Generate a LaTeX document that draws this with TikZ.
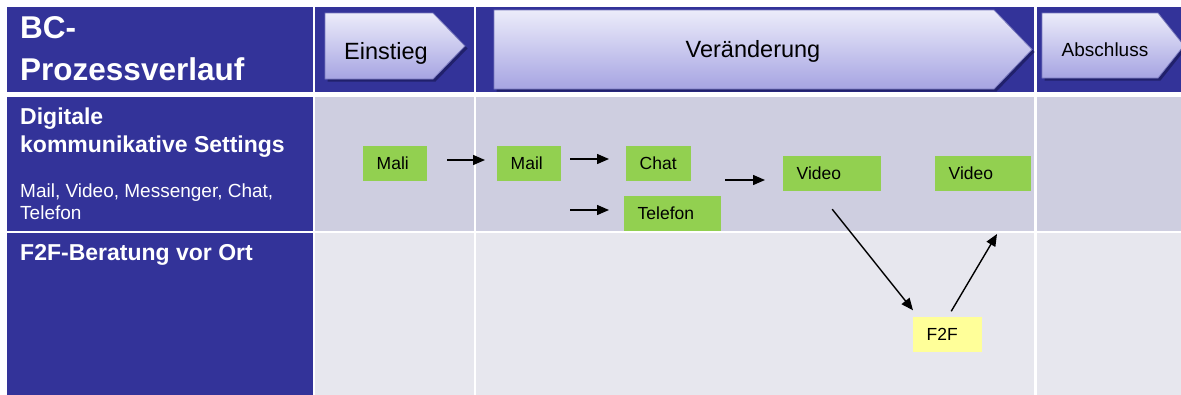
\documentclass[tikz,border=0pt]{standalone}
\usepackage{fontspec}
\setmainfont{Liberation Sans}
\usetikzlibrary{arrows.meta}

\definecolor{bcblue}{RGB}{51,51,153}
\definecolor{rowdigital}{RGB}{206,206,224}
\definecolor{rowlocal}{RGB}{231,231,238}
\definecolor{boxgreen}{RGB}{146,208,80}
\definecolor{boxyellow}{RGB}{255,255,153}
\definecolor{phasetop}{RGB}{236,236,250}
\definecolor{phasebottom}{RGB}{166,164,226}
\definecolor{phaseedge}{RGB}{120,120,190}
\definecolor{phaseshadow}{RGB}{28,28,96}

\tikzset{
  phasebody/.style={top color=phasetop, bottom color=phasebottom, draw=phaseedge, line width=0.8pt},
  phasetext/.style={anchor=base, font=\fontsize{23.5}{26}\selectfont},
  rowhead/.style={anchor=base west, text=white, font=\fontsize{23}{26}\selectfont\bfseries, inner sep=0pt},
  rownote/.style={anchor=base west, text=white, font=\fontsize{19}{22}\selectfont, inner sep=0pt},
  box/.style={fill=boxgreen, anchor=west, minimum height=35pt, inner xsep=13.5pt,
    text height=12.5pt, text depth=0pt, align=left, font=\fontsize{17.5}{20}\selectfont},
  arr/.style={->, line width=1.4pt},
}

% one phase chevron: left, top, bottom, start of the point, tip
\newcommand{\phase}[5]{%
  \fill[phaseshadow, opacity=0.8, shift={(2.5,2.5)}]
    (#1,#2) -- (#4,#2) -- (#5,{(#2+#3)/2}) -- (#4,#3) -- (#1,#3) -- cycle;
  \shadedraw[phasebody]
    (#1,#2) -- (#4,#2) -- (#5,{(#2+#3)/2}) -- (#4,#3) -- (#1,#3) -- cycle;
}

\begin{document}
\begin{tikzpicture}[x=1pt, y=-1pt, >={Triangle[length=12pt,width=10pt]}]
\useasboundingbox (0,0) rectangle (1181,394);

% table cells
\foreach \a/\b in {6.5/312.5, 315/473.5, 476/1034, 1037/1190}
  \fill[bcblue] (\a,7) rectangle (\b,91.5);
\foreach \t/\u/\c in {96.5/230.5/rowdigital, 233/400/rowlocal} {
  \fill[bcblue] (6.5,\t) rectangle (312.5,\u);
  \foreach \a/\b in {315/473.5, 476/1034, 1037/1190}
    \fill[\c] (\a,\t) rectangle (\b,\u);
}

% phases
\phase{325}{13}{79}{433}{465}
\phase{494}{10}{89}{994}{1032}
\phase{1042}{13}{78}{1158}{1184}
\node[phasetext] (einstieg) at (386,59) {Einstieg};
\node[phasetext] (veraenderung) at (753,57) {Veränderung};
\node[phasetext, font=\fontsize{19}{22}\selectfont] (abschluss) at (1105,56) {Abschluss};

% row headings
\node[rowhead, font=\fontsize{31.5}{34}\selectfont\bfseries] (title1) at (20,38) {BC-};
\node[rowhead, font=\fontsize{31.5}{34}\selectfont\bfseries] (title2) at (20,80) {Prozessverlauf};
\node[rowhead] (digi1) at (20,124) {Digitale};
\node[rowhead] (digi2) at (20,152) {kommunikative Settings};
\node[rownote] (note1) at (20,197) {Mail, Video, Messenger, Chat,};
\node[rownote] (note2) at (20,219) {Telefon};
\node[rowhead] (local) at (20,260) {F2F-Beratung vor Ort};

% settings
\node[box, text width=37pt] (mali) at (363,163) {Mali};
\node[box, text width=37pt] (mail) at (497,163) {Mail};
\node[box, text width=38pt] (chat) at (626,163) {Chat};
\node[box, text width=70pt] (tel) at (624,213.5) {Telefon};
\node[box, text width=71pt] (vid1) at (783,173.5) {Video};
\node[box, text width=69pt] (vid2) at (935,173.5) {Video};
\node[box, fill=boxyellow, text width=42pt] (f2f) at (913,334) {F2F};

\coordinate (telin) at (570,210);
\coordinate (back) at (997,234);

\draw[arr, shorten <=20pt, shorten >=12pt] ([yshift=3pt]mali.east) -- ([yshift=3pt]mail.west);
\draw[arr, shorten <=9pt, shorten >=17pt] ([yshift=4pt]mail.east) -- ([yshift=4pt]chat.west);
\draw[arr, shorten >=15pt] (telin) -- (telin -| tel.west);
\draw[arr, shorten <=34pt, shorten >=18pt] ([yshift=-17pt]chat.east) -- ([yshift=-6.5pt]vid1.west);
\draw[arr] ([yshift=-18pt]vid1.south) -- ([yshift=6pt]f2f.north west);
\draw[arr] ([xshift=3.5pt,yshift=5pt]f2f.north) -- (back);
\end{tikzpicture}
\end{document}
